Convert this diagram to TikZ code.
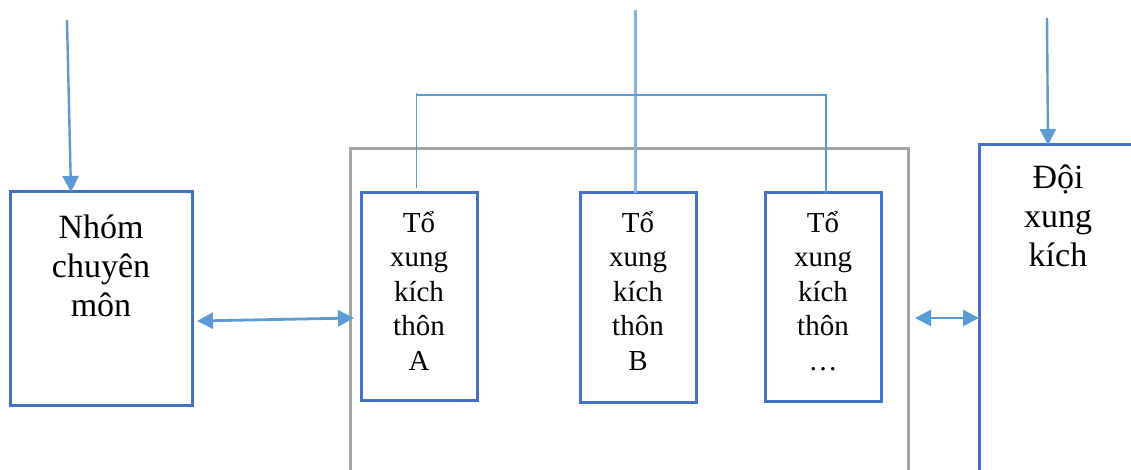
\documentclass[tikz,border=0pt]{standalone}
\usepackage{fontspec}
\setmainfont{Liberation Serif}
\usetikzlibrary{arrows.meta}
\definecolor{boxblue}{HTML}{4472C4}
\definecolor{linkblue}{HTML}{5B9BD5}
\definecolor{framegray}{HTML}{A5A5A5}
% a first-line strut of fixed height, so that the node's north lies 30pt above the first baseline
\newcommand{\firststrut}{\rule{0pt}{30pt}}
\tikzset{
  unitbox/.style={draw=boxblue, line width=3pt, rectangle, inner sep=0pt, outer sep=0pt},
  groupframe/.style={draw=framegray, line width=3pt, rectangle, inner sep=0pt, outer sep=0pt},
  bigtext/.style={font=\fontsize{34}{39}\selectfont, align=center, anchor=north, inner sep=0pt},
  smalltext/.style={font=\fontsize{29}{34.5}\selectfont, align=center, anchor=north, inner sep=0pt},
  feed/.style={draw=linkblue, line width=2.4pt, -{Triangle[length=16pt,width=16pt]}},
  link/.style={draw=linkblue, line width=2.8pt, {Triangle[length=16pt,width=16pt]}-{Triangle[length=16pt,width=16pt]}},
  branch/.style={draw=linkblue, line width=1.3pt},
  trunk/.style={draw=linkblue!75!white, line width=2.2pt}
}
\begin{document}
\begin{tikzpicture}[x=1pt, y=-1pt]
  \clip (0,0) rectangle (1131,470);
  \fill[white] (0,0) rectangle (1131,470);

  % boxes
  \node[unitbox, minimum width=182pt, minimum height=213pt] (nhom) at (101,298.5) {};
  \node[groupframe, minimum width=558pt, minimum height=331pt] (outer) at (629,314.5) {};
  \node[unitbox, minimum width=116pt, minimum height=207pt] (ta) at (419,296.5) {};
  \node[unitbox, minimum width=116pt, minimum height=209pt] (tb) at (638,297.5) {};
  \node[unitbox, minimum width=116pt, minimum height=208pt] (tc) at (823,297) {};
  \node[unitbox, minimum width=166pt, minimum height=335pt] (doi) at (1062,312.5) {};

  % labels (first baselines at 238, 188 and 232)
  \node[bigtext] (nhomtxt) at (101,208) {\firststrut Nhóm\\chuyên\\môn};
  \node[bigtext] (doitxt) at (1058,158) {\firststrut Đội\\xung\\kích};
  \node[smalltext] (tatxt) at (419,202) {\firststrut Tổ\\xung\\kích\\thôn\\A};
  \node[smalltext] (tbtxt) at (638,202) {\firststrut Tổ\\xung\\kích\\thôn\\B};
  \node[smalltext] (tctxt) at (823,202) {\firststrut Tổ\\xung\\kích\\thôn\\…};

  % incoming lines from above
  \coordinate (inl) at (67,20);
  \coordinate (inr) at (1047,18);
  \coordinate (inc) at (635.5,10);
  \draw[feed] (inl) -- ([xshift=61pt]nhom.north west);
  \draw[feed] (inr) -- ([xshift=69pt]doi.north west);

  % branching line over the groups
  \coordinate (brl) at (416.5,95);
  \coordinate (brr) at (826,95);
  \draw[trunk] (inc) -- (inc |- tb.north);
  \draw[branch] ([yshift=5pt]ta.north -| brl) -- ([yshift=2pt]brl);
  \draw[branch] (brl) -- (brr) -- (brr |- tc.north);

  % two-way links
  \draw[link] ([xshift=5pt,yshift=-22.5pt]nhom.east) -- ([xshift=4pt,yshift=-3.5pt]outer.west);
  \draw[link] ([xshift=7pt,yshift=-3.5pt]outer.east) -- ([yshift=-5.5pt]doi.west);
\end{tikzpicture}
\end{document}
